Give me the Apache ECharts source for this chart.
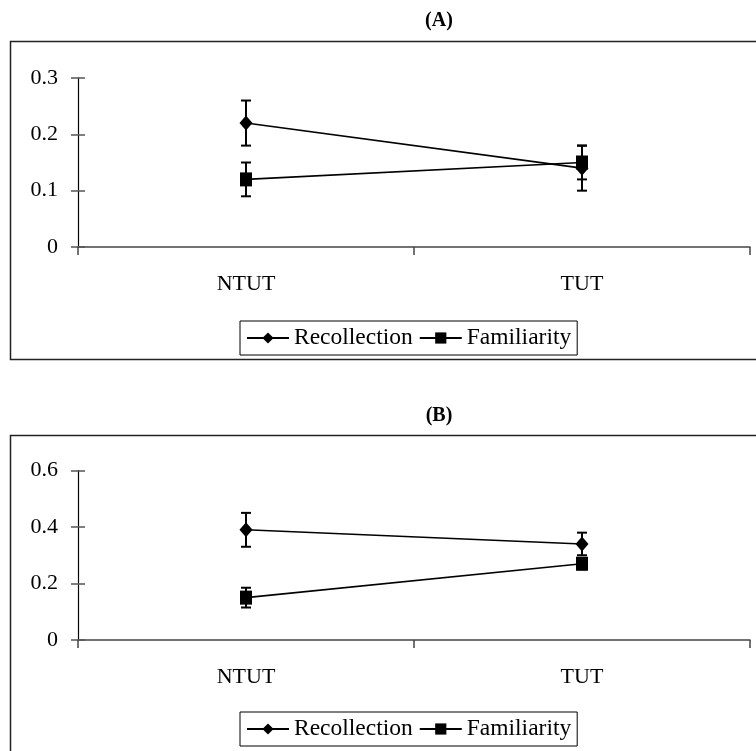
<!DOCTYPE html>
<html>
<head>
<meta charset="utf-8">
<script src="https://cdn.jsdelivr.net/npm/echarts@6/dist/echarts.min.js"></script>
<style>html,body{margin:0;padding:0;background:#fff;}#c{width:756px;height:751px;}</style>
</head>
<body>
<div id="c"></div>
<script>
const categories = ['NTUT', 'TUT'];
const seriesNames = ['Recollection', 'Familiarity'];
// Panel A
const recA = [0.22, 0.14];
const recAErr = [0.04, 0.04];
const famA = [0.12, 0.15];
const famAErr = [0.03, 0.03];
const ticksA = { min: 0, max: 0.3, interval: 0.1 };
// Panel B
const recB = [0.39, 0.34];
const recBErr = [0.06, 0.04];
const famB = [0.15, 0.27];
const famBErr = [0.035, 0.02];
const ticksB = { min: 0, max: 0.6, interval: 0.2 };

const FONT = '"Liberation Serif", "DejaVu Serif", serif';

function errData(vals, errs) {
  return vals.map((v, i) => [i, v - errs[i], v + errs[i]]);
}
function errSeries(name, vals, errs, xi, yi) {
  return {
    type: 'custom', name: name + ' err', xAxisIndex: xi, yAxisIndex: yi, z: 3,
    data: errData(vals, errs),
    encode: { x: 0, y: [1, 2] },
    renderItem: function (params, api) {
      const lo = api.coord([api.value(0), api.value(1)]);
      const hi = api.coord([api.value(0), api.value(2)]);
      const hw = 5;
      const st = { stroke: '#000', lineWidth: 2 };
      return { type: 'group', children: [
        { type: 'line', shape: { x1: lo[0], y1: lo[1], x2: hi[0], y2: hi[1] }, style: st },
        { type: 'line', shape: { x1: lo[0] - hw, y1: lo[1], x2: lo[0] + hw, y2: lo[1] }, style: st },
        { type: 'line', shape: { x1: hi[0] - hw, y1: hi[1], x2: hi[0] + hw, y2: hi[1] }, style: st }
      ] };
    }
  };
}
function lineSeries(name, vals, xi, yi, symbol, size) {
  return {
    type: 'line', name: name, xAxisIndex: xi, yAxisIndex: yi, z: 4,
    data: vals, symbol: symbol, symbolSize: size, showSymbol: true,
    lineStyle: { color: '#000', width: 1.6 },
    itemStyle: { color: '#000' },
    animation: false
  };
}
function xAxisFor(gi) {
  return {
    type: 'category', gridIndex: gi, data: categories, boundaryGap: true,
    axisLine: { lineStyle: { color: '#444', width: 1.5 } },
    axisTick: { show: true, length: 8, inside: false, lineStyle: { color: '#444', width: 1.5 } },
    axisLabel: { color: '#000', fontFamily: FONT, fontSize: 22, margin: 26 },
    splitLine: { show: false }
  };
}
function yAxesFor(gi, t) {
  return [{
    type: 'value', gridIndex: gi, min: t.min, max: t.max, interval: t.interval, position: 'left',
    axisLine: { show: true, lineStyle: { color: '#000', width: 1.2 } },
    axisTick: { show: true, length: 7, lineStyle: { color: '#555', width: 1.5 } },
    axisLabel: { color: '#000', fontFamily: FONT, fontSize: 22, margin: 20,
      formatter: v => (v === 0 ? '0' : String(Math.round(v * 10) / 10)) },
    splitLine: { show: false }
  }, {
    type: 'value', gridIndex: gi, min: t.min, max: t.max, interval: t.interval, position: 'left', offset: 0,
    axisLine: { show: false },
    axisTick: { show: true, inside: true, length: 7, lineStyle: { color: '#555', width: 1.5 } },
    axisLabel: { show: false }, splitLine: { show: false }
  }];
}
function legendFor(top) {
  return {
    data: seriesNames, left: 240, top: top, orient: 'horizontal',
    borderColor: '#000', borderWidth: 1, padding: [5, 6, 5, 6],
    itemWidth: 42, itemHeight: 14, itemGap: 6, selectedMode: false,
    textStyle: { color: '#000', fontFamily: FONT, fontSize: 23.5 }
  };
}

const chart = echarts.init(document.getElementById('c'), null, { renderer: 'canvas' });
chart.setOption({
  backgroundColor: '#fff',
  animation: false,
  title: [
    { text: '(A)', left: 434, top: 6, textAlign: 'center', textStyle: { fontFamily: FONT, fontSize: 20, fontWeight: 'bold', color: '#000' } },
    { text: '(B)', left: 434, top: 401, textAlign: 'center', textStyle: { fontFamily: FONT, fontSize: 20, fontWeight: 'bold', color: '#000' } }
  ],
  graphic: [
    { type: 'rect', shape: { x: 10.5, y: 41.5, width: 760, height: 318 }, style: { fill: 'none', stroke: '#222', lineWidth: 1.5 }, z: -1 },
    { type: 'rect', shape: { x: 10.5, y: 435.5, width: 760, height: 340 }, style: { fill: 'none', stroke: '#222', lineWidth: 1.5 }, z: -1 }
  ],
  legend: [legendFor(321), legendFor(712)],
  grid: [
    { left: 78, top: 78, width: 672, height: 169, containLabel: false },
    { left: 78, top: 470.5, width: 672, height: 169.5, containLabel: false }
  ],
  xAxis: [xAxisFor(0), xAxisFor(1)],
  yAxis: yAxesFor(0, ticksA).concat(yAxesFor(1, ticksB)),
  series: [
    errSeries('Recollection A', recA, recAErr, 0, 0),
    errSeries('Familiarity A', famA, famAErr, 0, 0),
    lineSeries('Recollection', recA, 0, 0, 'diamond', [13, 15]),
    lineSeries('Familiarity', famA, 0, 0, 'rect', [12, 14]),
    errSeries('Recollection B', recB, recBErr, 1, 2),
    errSeries('Familiarity B', famB, famBErr, 1, 2),
    lineSeries('Recollection', recB, 1, 2, 'diamond', [13, 15]),
    lineSeries('Familiarity', famB, 1, 2, 'rect', [12, 14])
  ]
});
</script>
</body>
</html>
